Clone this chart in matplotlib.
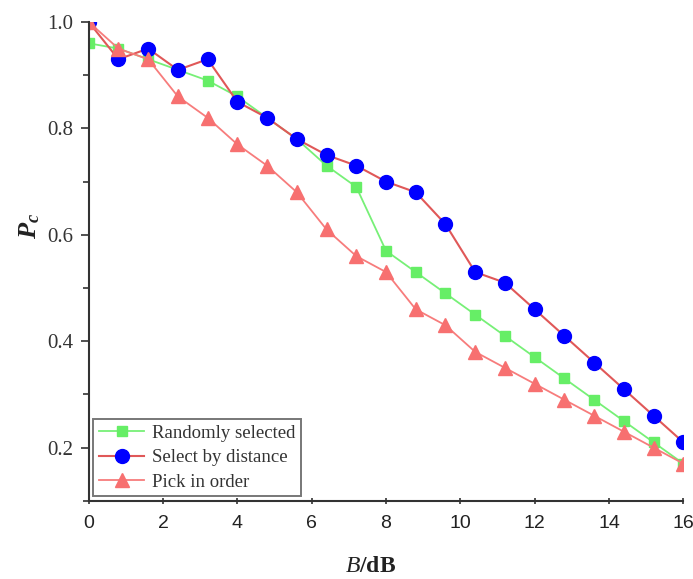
import numpy as np
import matplotlib
matplotlib.use('Agg')
import matplotlib.pyplot as plt
from matplotlib.ticker import MultipleLocator

# data
snr = [0, 0.8, 1.6, 2.4, 3.2, 4.0, 4.8, 5.6, 6.4, 7.2, 8.0,
       8.8, 9.6, 10.4, 11.2, 12.0, 12.8, 13.6, 14.4, 15.2, 16.0]
pc_random = [0.96, 0.95, 0.93, 0.91, 0.89, 0.86, 0.82, 0.78, 0.73, 0.69, 0.57,
             0.53, 0.49, 0.45, 0.41, 0.37, 0.33, 0.29, 0.25, 0.21, 0.17]
pc_distance = [1.00, 0.93, 0.95, 0.91, 0.93, 0.85, 0.82, 0.78, 0.75, 0.73, 0.70,
               0.68, 0.62, 0.53, 0.51, 0.46, 0.41, 0.36, 0.31, 0.26, 0.21]
pc_order = [1.00, 0.95, 0.93, 0.86, 0.82, 0.77, 0.73, 0.68, 0.61, 0.56, 0.53,
            0.46, 0.43, 0.38, 0.35, 0.32, 0.29, 0.26, 0.23, 0.20, 0.17]
labels = ['Randomly selected', 'Select by distance', 'Pick in order']

plt.rcParams['font.family'] = 'Liberation Serif'
plt.rcParams['mathtext.fontset'] = 'custom'
plt.rcParams['mathtext.rm'] = 'Liberation Serif'
plt.rcParams['mathtext.it'] = 'Liberation Serif:italic'
plt.rcParams['mathtext.bf'] = 'Liberation Serif:bold'
plt.rcParams['mathtext.bfit'] = 'Liberation Serif:bold:italic'

fig = plt.figure(figsize=(6.93, 5.79), dpi=100)
ax = fig.add_axes([0.128, 0.135, 0.858, 0.827])

ax.plot(snr, pc_random, color='#77f077', lw=1.3, marker='s', ms=7.5,
        mfc='#66ee66', mec='#66ee66', label=labels[0])
ax.plot(snr, pc_distance, color='#e05858', lw=1.5, marker='o', ms=10,
        mfc='#0000ff', mec='#0000ff', label=labels[1])
ax.plot(snr, pc_order, color='#f77c7c', lw=1.3, marker='^', ms=10,
        mfc='#f77070', mec='#f77070', label=labels[2])

ax.set_xlim(0, 16)
ax.set_ylim(0.1, 1.0)
ax.xaxis.set_major_locator(MultipleLocator(2))
ax.yaxis.set_minor_locator(MultipleLocator(0.1))
ax.set_yticks([0.2, 0.4, 0.6, 0.8, 1.0])
ax.yaxis.set_major_formatter(plt.FuncFormatter(lambda v, p: '%.1f' % v))

for s in ['top', 'right']:
    ax.spines[s].set_visible(False)
for s in ['left', 'bottom']:
    ax.spines[s].set_linewidth(1.5)
    ax.spines[s].set_color('#333333')

ax.tick_params(axis='y', which='major', length=6, width=1.2, labelsize=15,
               colors='#333333', pad=5)
ax.tick_params(axis='y', which='minor', length=4, width=1.2, colors='#333333')
ax.tick_params(axis='x', which='major', length=4, width=1.2, labelsize=14,
               direction='inout', colors='#333333', pad=8)
for t in ax.get_xticklabels():
    t.set_family('Liberation Sans')
    t.set_color('#222222')

fig.text(0.043, 0.61, r'$\mathbfit{P}_{\mathbfit{c}}$', fontsize=19,
         rotation=90, ha='center', va='center', color='#222222')
fig.text(0.535, 0.022, r'$\mathit{B}\mathbf{/dB}$', fontsize=17, ha='center',
         va='center', color='#222222')

leg = ax.legend(loc='lower left', fontsize=13.5, frameon=True, fancybox=False,
                edgecolor='#555555', borderaxespad=0.25, handlelength=2.4,
                labelspacing=0.38, borderpad=0.3, handletextpad=0.4)
leg.get_frame().set_linewidth(1.4)
for t in leg.get_texts():
    t.set_color('#333333')

fig.savefig('out.png', dpi=100)
